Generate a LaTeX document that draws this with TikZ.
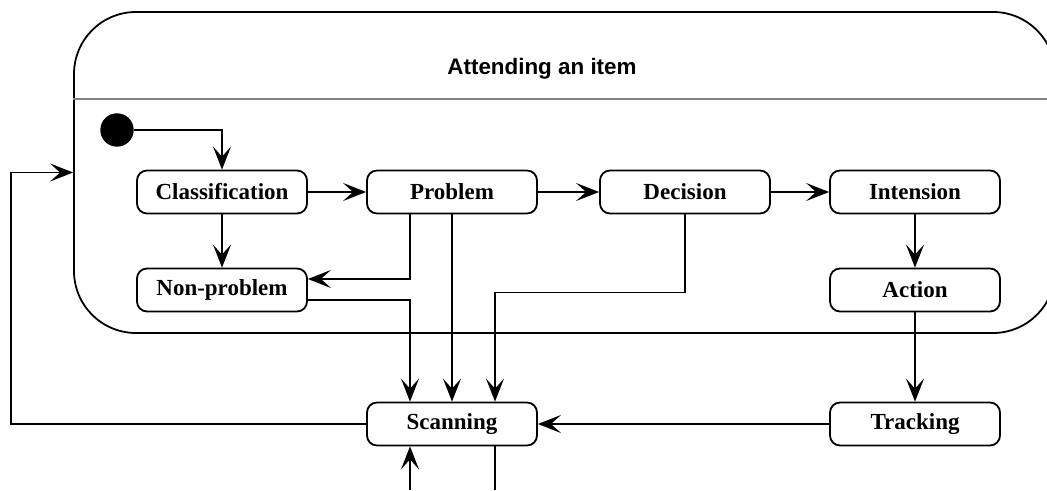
\documentclass[tikz,border=0pt]{standalone}
\usepackage{fontspec}
\setmainfont{Liberation Serif}
\newfontfamily\headfont{Liberation Sans}
\usepackage{tikz}
\usetikzlibrary{arrows.meta, positioning}
\tikzstyle{activity} = [rectangle, rounded corners=5pt, minimum width=85pt, minimum height=21.5pt, align=center, draw=black, line width=0.9pt, font=\fontsize{11.5}{13}\selectfont\bfseries]
\tikzstyle{flow} = [line width=0.9pt, -{Stealth[length=11.5pt, width=9pt, inset=5pt]}]
\tikzstyle{link} = [line width=0.9pt]

\begin{document}
\begin{tikzpicture}
    \useasboundingbox (0,0) rectangle (523.5pt,-245.5pt);
    % Composite state
    \node (frame) [rectangle, rounded corners=31pt, draw=black, line width=0.9pt, minimum width=490.5pt, minimum height=160.5pt, inner sep=0pt] at (282.25pt,-86.25pt) {};
    \draw [gray, line width=0.9pt] ([yshift=-44pt]frame.north west) -- ([yshift=-44pt]frame.north east);
    \node (title) [anchor=base west, inner sep=0pt, font=\headfont\fontsize{11.2}{13}\selectfont\bfseries] at (223.5pt,-37.5pt) {Attending an item};

    % Nodes
    \node (start) [circle, fill=black, minimum size=16.7pt, inner sep=0pt] at (58.5pt,-65pt) {};
    \node (classif) [activity] at (111pt,-96pt) {Classification};
    \node (problem) [activity, right of=classif, node distance=115pt] {Problem};
    \node (decision) [activity, right of=problem, node distance=116.5pt] {Decision};
    \node (intension) [activity, right of=decision, node distance=115pt] {Intension};
    \node (nonprob) [activity, below of=classif, node distance=49pt] {Non-problem};
    \node (action) [activity, below of=intension, node distance=49pt] {Action};
    \node (scanning) [activity, below of=problem, node distance=116pt] {Scanning};
    \node (tracking) [activity, below of=action, node distance=67pt] {Tracking};

    \coordinate (scanin) at ([xshift=-21pt,yshift=-22pt]scanning.south);
    \coordinate (scanout) at ([xshift=21.5pt,yshift=-22pt]scanning.south);

    % Edges
    \draw [flow] (start) -| (classif);
    \draw [flow] (classif) -- (problem);
    \draw [flow] (problem) -- (decision);
    \draw [flow] (decision) -- (intension);
    \draw [flow] (classif) -- (nonprob);
    \draw [flow] ([xshift=-21pt]problem.south) |- ([yshift=5.5pt]nonprob.east);
    \draw [flow] ([yshift=-5pt]nonprob.east) -| ([xshift=-21pt]scanning.north);
    \draw [flow] (problem) -- (scanning);
    \draw [flow] (decision.south) -- ([yshift=-39pt]decision.south) -| ([xshift=21.5pt]scanning.north);
    \draw [flow] (intension) -- (action);
    \draw [flow] (action) -- (tracking);
    \draw [flow] (tracking) -- (scanning);
    \draw [flow] (scanning.west) -- ++(-177.5pt,0) |- (frame.west);
    \draw [flow] (scanin) -- ([xshift=-21pt]scanning.south);
    \draw [link] ([xshift=21.5pt]scanning.south) -- (scanout);
\end{tikzpicture}
\end{document}
